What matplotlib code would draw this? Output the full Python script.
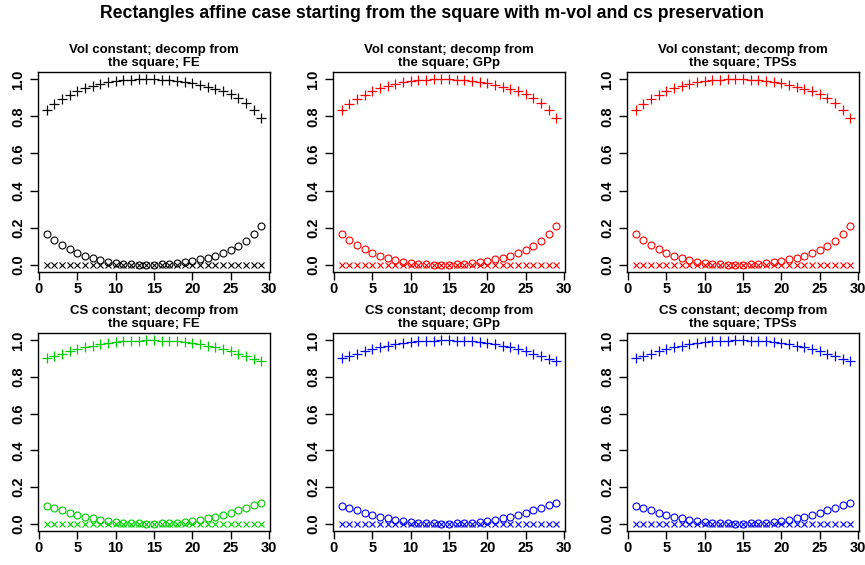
import numpy as np
import matplotlib
matplotlib.use('Agg')
import matplotlib.pyplot as plt

plt.rcParams['font.family'] = ['Liberation Sans', 'DejaVu Sans']
plt.rcParams['font.weight'] = 'bold'

# 数据: 29 个点, 每个面板三组 (+, o, x)
x = np.arange(1, 30)

vol_plus = [0.834, 0.867, 0.895, 0.916, 0.936, 0.952, 0.965, 0.976, 0.984, 0.990,
            0.995, 0.998, 1.000, 1.000, 1.000, 0.999, 0.997, 0.993, 0.988, 0.980,
            0.971, 0.961, 0.950, 0.936, 0.920, 0.900, 0.872, 0.836, 0.789]
vol_circ = [0.166, 0.135, 0.106, 0.084, 0.064, 0.048, 0.035, 0.024, 0.016, 0.010,
            0.005, 0.002, 0.000, 0.000, 0.000, 0.001, 0.003, 0.007, 0.012, 0.020,
            0.028, 0.038, 0.049, 0.063, 0.080, 0.100, 0.128, 0.164, 0.211]
cs_plus = [0.902, 0.915, 0.928, 0.940, 0.951, 0.961, 0.970, 0.978, 0.985, 0.990,
           0.994, 0.997, 0.999, 1.000, 1.000, 0.999, 0.997, 0.994, 0.990, 0.985,
           0.978, 0.971, 0.962, 0.951, 0.940, 0.928, 0.914, 0.900, 0.886]
cs_circ = [0.098, 0.085, 0.072, 0.060, 0.049, 0.039, 0.030, 0.022, 0.015, 0.010,
           0.006, 0.003, 0.001, 0.000, 0.000, 0.001, 0.003, 0.006, 0.010, 0.015,
           0.022, 0.029, 0.038, 0.049, 0.060, 0.072, 0.086, 0.100, 0.114]
zeros = [0.0] * 29

methods = ['FE', 'GPp', 'TPSs']
row_names = ['Vol', 'CS']
row_data = [(vol_plus, vol_circ, zeros), (cs_plus, cs_circ, zeros)]
colors = [['black', 'red', 'red'], ['#00CD00', 'blue', 'blue']]

fig = plt.figure(figsize=(8.65, 5.65), dpi=100)
fig.suptitle('Rectangles affine case starting from the square with m-vol and cs preservation',
             fontsize=12.7, fontweight='bold', y=0.992)

lefts = [38, 333, 627]
rows = [(72, 272), (333, 531)]
W, H = 865.0, 565.0

for r in range(2):
    top, bot = rows[r]
    for c in range(3):
        ax = fig.add_axes([lefts[c] / W, 1 - bot / H, 232 / W, (bot - top) / H])
        col = colors[r][c]
        plus, circ, xs = row_data[r]
        ax.plot(x, plus, ls='none', marker='+', ms=7, mew=0.9, color=col)
        ax.plot(x, circ, ls='none', marker='o', ms=5, mew=0.8, mfc='none', mec=col)
        ax.plot(x, xs, ls='none', marker='x', ms=4.5, mew=0.8, color=col)
        ax.set_xlim(1 - 28 * 0.04, 29 + 28 * 0.04)
        ax.set_ylim(-0.04, 1.04)
        ax.set_xticks([0, 5, 10, 15, 20, 25, 30])
        ax.set_yticks([0.0, 0.2, 0.4, 0.6, 0.8, 1.0])
        ax.set_yticklabels(['0.0', '0.2', '0.4', '0.6', '0.8', '1.0'],
                           rotation=90, va='center')
        ax.tick_params(direction='out', length=6, width=1, labelsize=10.5)
        ax.tick_params(axis='x', pad=1.5)
        ax.tick_params(axis='y', pad=3)
        for s in ax.spines.values():
            s.set_linewidth(1)
        ax.set_title('%s constant; decomp from\nthe square; %s' % (row_names[r], methods[c]),
                     fontsize=9.5, fontweight='bold', pad=4, linespacing=1.15)

fig.savefig('out.png', dpi=100)
